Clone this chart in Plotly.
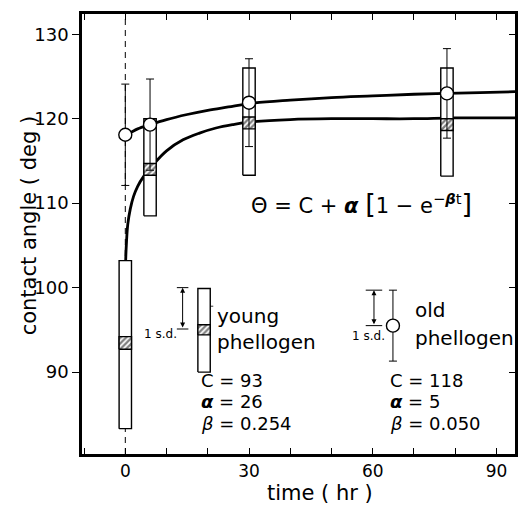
import plotly.graph_objects as go

FONT = "DejaVu Sans"

# ---------------- data ----------------
# old phellogen: mean (circle) and +/- 1 s.d.
old_t = [0, 6, 30, 78]
old_mean = [118.1, 119.3, 121.9, 123.0]
old_sd = [6.0, 5.4, 5.2, 5.3]

# young phellogen: range box (low/high) and hatched mean band
young_t = [0, 6, 30, 78]
young_low = [83.3, 108.5, 113.3, 113.2]
young_high = [103.2, 120.0, 126.0, 126.0]
young_mlow = [92.7, 113.3, 118.8, 118.6]
young_mhigh = [94.2, 114.7, 120.2, 120.0]

# fitted curves
young_curve_t = [0, 0.1, 0.3, 0.6, 1.2, 2.0, 3.0, 4.5, 7, 10, 14, 18, 22, 26, 30, 40, 50, 60, 70, 80, 94.5]
young_curve_v = [98, 103.3, 105.5, 107.5, 109.3, 110.8, 112.0, 113.2, 114.7, 116.2, 117.5, 118.3, 118.9,
                 119.3, 119.6, 119.9, 120.0, 120.0, 120.0, 120.1, 120.1]
old_curve_t = [0, 1, 3, 6, 10, 15, 20, 25, 30, 40, 50, 60, 70, 78, 86, 94.5]
old_curve_v = [118.1, 118.3, 118.8, 119.3, 119.9, 120.5, 121.0, 121.4, 121.8, 122.2, 122.5, 122.7,
               122.9, 123.0, 123.1, 123.2]

# legend keys
key_young_t = 19.1
key_young_low, key_young_high = 90.0, 99.9
key_young_mlow, key_young_mhigh = 94.4, 95.6
key_young_sd = [95.1, 100.0]
key_old_t = 64.9
key_old_mean, key_old_sd = 95.5, 4.2

x_ticks = [0, 30, 60, 90]
y_ticks = [90, 100, 110, 120, 130]
x_range = [-10.5, 94.5]
y_range = [80.3, 132.4]

HW = 1.5  # half width of the boxes (hr)


def boxes(ts, lows, highs, hw):
    xs, ys = [], []
    for t, lo, hi in zip(ts, lows, highs):
        xs += [t - hw, t + hw, t + hw, t - hw, t - hw, None]
        ys += [lo, lo, hi, hi, lo, None]
    return xs, ys


fig = go.Figure()

# dashed line at t = 0
fig.add_trace(go.Scatter(x=[0, 0], y=y_range, mode="lines",
                         line=dict(color="black", width=1, dash="6px,5px"),
                         showlegend=False, hoverinfo="skip"))

# fitted curves
fig.add_trace(go.Scatter(x=young_curve_t, y=young_curve_v, mode="lines", line_shape="spline",
                         line=dict(color="black", width=2.8), showlegend=False))
fig.add_trace(go.Scatter(x=old_curve_t, y=old_curve_v, mode="lines", line_shape="spline",
                         line=dict(color="black", width=2.8), showlegend=False))

# young range boxes (white, cover curves)
bx, by = boxes(young_t + [key_young_t], young_low + [key_young_low], young_high + [key_young_high], HW)
fig.add_trace(go.Scatter(x=bx, y=by, mode="lines", fill="toself", fillcolor="white",
                         line=dict(color="black", width=1.4), showlegend=False))
# hatched mean bands
hx, hy = boxes(young_t + [key_young_t], young_mlow + [key_young_mlow], young_mhigh + [key_young_mhigh], HW)
fig.add_trace(go.Scatter(x=hx, y=hy, mode="lines", fill="toself",
                         fillpattern=dict(shape="/", fgcolor="black", bgcolor="white", size=4, solidity=0.55),
                         line=dict(color="black", width=1.4), showlegend=False))

# old phellogen means with error bars
fig.add_trace(go.Scatter(x=old_t + [key_old_t], y=old_mean + [key_old_mean], mode="markers",
                         marker=dict(symbol="circle", size=13, color="white",
                                     line=dict(color="black", width=1.4)),
                         error_y=dict(type="data", array=old_sd + [key_old_sd], color="black",
                                      thickness=1, width=4),
                         showlegend=False))

# invisible trace for right axis
fig.add_trace(go.Scatter(x=[x_range[0]], y=[y_range[0]], yaxis="y2", mode="markers",
                         marker=dict(opacity=0), showlegend=False, hoverinfo="skip"))

# 1 s.d. keys: caps and double arrows
shapes = []
for t, lo, hi, cap in [(13.9, key_young_sd[0], key_young_sd[1], 1.4),
                       (60.3, key_old_mean, key_old_mean + key_old_sd, 2.0)]:
    for yv in (lo, hi):
        shapes.append(dict(type="line", xref="x", yref="y", x0=t - cap, x1=t + cap, y0=yv, y1=yv,
                           line=dict(color="black", width=1)))
# leader line young key
shapes.append(dict(type="line", xref="x", yref="y", x0=key_young_t + HW, x1=22.0, y0=97.8, y1=97.8,
                   line=dict(color="black", width=0.8, dash="dot")))

ann = []
for t, lo, hi in [(13.9, key_young_sd[0], key_young_sd[1]),
                  (60.3, key_old_mean, key_old_mean + key_old_sd)]:
    ann.append(dict(x=t, y=hi, ax=t, ay=lo, xref="x", yref="y", axref="x", ayref="y",
                    text="", showarrow=True, arrowhead=2, arrowside="end+start",
                    arrowsize=1, arrowwidth=1, arrowcolor="black", standoff=0, startstandoff=0))


def txt(x, y, s, size=19, xanchor="left"):
    ann.append(dict(x=x, y=y, xref="x", yref="y", text=s, showarrow=False,
                    xanchor=xanchor, yanchor="middle", font=dict(family=FONT, size=size, color="black")))


txt(12.9, 94.5, "1 s.d.", size=12, xanchor="right")
txt(63.4, 94.3, "1 s.d.", size=12, xanchor="right")
txt(21.8, 96.6, "young", size=20)
txt(21.8, 93.6, "phellogen", size=20)
txt(69.8, 97.3, "old", size=20)
txt(69.8, 94.0, "phellogen", size=20)
txt(17.8, 89.0, "C = 93", size=18)
txt(17.8, 86.5, "<b><i>α</i></b> = 26", size=18)
txt(17.8, 83.9, "<i>β</i> = 0.254", size=18)
txt(63.6, 89.0, "C = 118", size=18)
txt(63.6, 86.5, "<b><i>α</i></b> = 5", size=18)
txt(63.6, 83.9, "<i>β</i> = 0.050", size=18)
txt(30.0, 110.0,
    "Θ = C + <b><i>α</i></b> <span style='font-size:27px'>[</span>1 − e<sup>−<b><i>β</i></b>t</sup>"
    "<span style='font-size:27px'>]</span>", size=21)

fig.update_layout(annotations=ann, shapes=shapes)

W, H = 520, 505
L, R, T, B = 82, 2, 14, 51
pw, ph = W - L - R, H - T - B
fig.add_annotation(x=(29 - L) / pw, y=(H - 225 - B) / ph, xref="paper", yref="paper",
                   text="contact angle ( deg )", showarrow=False, textangle=-90,
                   xanchor="center", yanchor="middle", font=dict(family=FONT, size=21, color="black"))
fig.add_annotation(x=(322 - L) / pw, y=(H - 493 - B) / ph, xref="paper", yref="paper",
                   text="time ( hr )", showarrow=False, xanchor="center", yanchor="middle",
                   font=dict(family=FONT, size=21, color="black"))

fig.update_layout(
    width=W, height=H, margin=dict(l=L, r=R, t=T, b=B),
    paper_bgcolor="white", plot_bgcolor="white",
    font=dict(family=FONT, size=18, color="black"),
    xaxis=dict(range=x_range, tickvals=x_ticks, ticks="inside", ticklen=6, tickwidth=1.2,
               tickcolor="black", showgrid=False, zeroline=False, showline=True, linecolor="black",
               linewidth=2.5, mirror="ticks", tickfont=dict(size=17),
               minor=dict(dtick=10, tick0=0, ticks="inside", ticklen=6, tickwidth=1.2, tickcolor="black",
                          showgrid=False)),
    yaxis=dict(range=y_range, tickvals=y_ticks, ticks="outside", ticklen=7, tickwidth=1.2,
               tickcolor="black", showgrid=False, zeroline=False, showline=True, linecolor="black",
               linewidth=2.5, mirror=True, tickfont=dict(size=18)),
    yaxis2=dict(range=y_range, overlaying="y", side="right", tickvals=y_ticks, ticks="inside",
                ticklen=6, tickcolor="black", showticklabels=False, showgrid=False, zeroline=False,
                showline=False),
)

fig.write_html("out.html")
